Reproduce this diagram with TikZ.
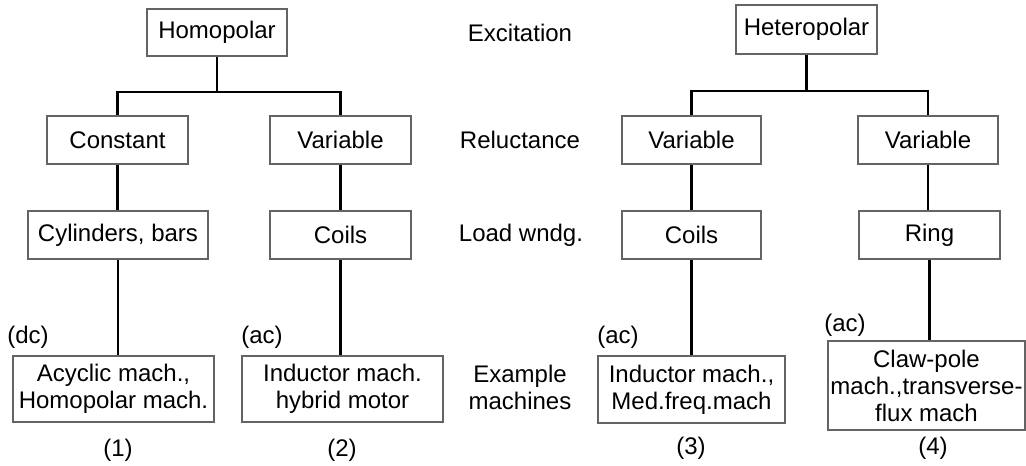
\documentclass[tikz,border=0pt]{standalone}
\usepackage{fontspec}
\setmainfont{Liberation Sans}
\begin{document}
\begin{tikzpicture}[x=1pt,y=-1pt,
  every node/.style={font=\fontsize{24}{27}\selectfont, inner sep=1pt, align=center},
  box/.style={draw={rgb,255:red,100;green,100;blue,100}, line width=1.4pt, minimum height=48pt},
  conn/.style={line width=2.8pt, black}]
\useasboundingbox (0,0) rectangle (1026,466);
% boxes
\node[box, minimum width=140pt, minimum height=47pt] (hom) at (217,32.5) {Homopolar};
\node[box, minimum width=141pt, minimum height=49pt] (het) at (806.5,29.5) {Heteropolar};
\node[box, minimum width=141pt] (con) at (117.5,140) {Constant};
\node[box, minimum width=141pt] (va) at (340.5,140) {Variable};
\node[box, minimum width=139pt] (vb) at (691.5,140) {Variable};
\node[box, minimum width=140pt] (vc) at (928,140) {Variable};
\node[box, minimum width=180pt] (cyl) at (118,235) {Cylinders, bars};
\node[box, minimum width=141pt] (coa) at (340.5,235) {Coils};
\node[box, minimum width=139pt] (cob) at (691.5,235) {Coils};
\node[box, minimum width=141pt] (ring) at (929.5,235) {Ring};
\node[box, minimum width=201pt, minimum height=66pt] (ex1) at (113.5,389) {Acyclic mach.,\\Homopolar mach.};
\node[box, minimum width=201pt, minimum height=66pt] (ex2) at (342.5,389) {Inductor mach.\\hybrid motor};
\node[box, minimum width=187pt, minimum height=67pt] (ex3) at (691.5,389.5) {Inductor mach.,\\Med.freq.mach};
\node[box, minimum width=197pt, minimum height=89pt, inner sep=0pt] (ex4) at (926.5,385.5) {Claw-pole\\mach.,transverse-\\flux mach};
% level labels
\node (l1) at (520,33) {Excitation};
\node (l2) at (520,140) {Reluctance};
\node (l3) at (521,235) {Load wndg.};
\node (l4) at (520,387) {Example\\machines};
% current type labels
\node (t1) at (28,337) {(dc)};
\node (t2) at (262,337) {(ac)};
\node (t3) at (618,337) {(ac)};
\node (t4) at (845,325) {(ac)};
% numbers
\node (n1) at (118,450) {(1)};
\node (n2) at (342,450) {(2)};
\node (n3) at (691,448) {(3)};
\node (n4) at (933,448) {(4)};
% connectors
\coordinate (j1) at (217,92);
\coordinate (j2) at (806.5,91);
\draw[conn] (hom.south) -- (j1);
\draw[conn] (con.north) |- (j1) -| (va.north);
\draw[conn] (het.south) -- (j2);
\draw[conn] (vb.north) |- (j2) -| (vc.north);
\draw[conn] (con.south) -- (con.south |- cyl.north);
\draw[conn] (va.south) -- (va.south |- coa.north);
\draw[conn] (vb.south) -- (vb.south |- cob.north);
\draw[conn] (vc.south) -- (vc.south |- ring.north);
\draw[conn] (cyl.south) -- (cyl.south |- ex1.north);
\draw[conn] (coa.south) -- (coa.south |- ex2.north);
\draw[conn] (cob.south) -- (cob.south |- ex3.north);
\draw[conn] (ring.south) -- (ring.south |- ex4.north);
\end{tikzpicture}
\end{document}
